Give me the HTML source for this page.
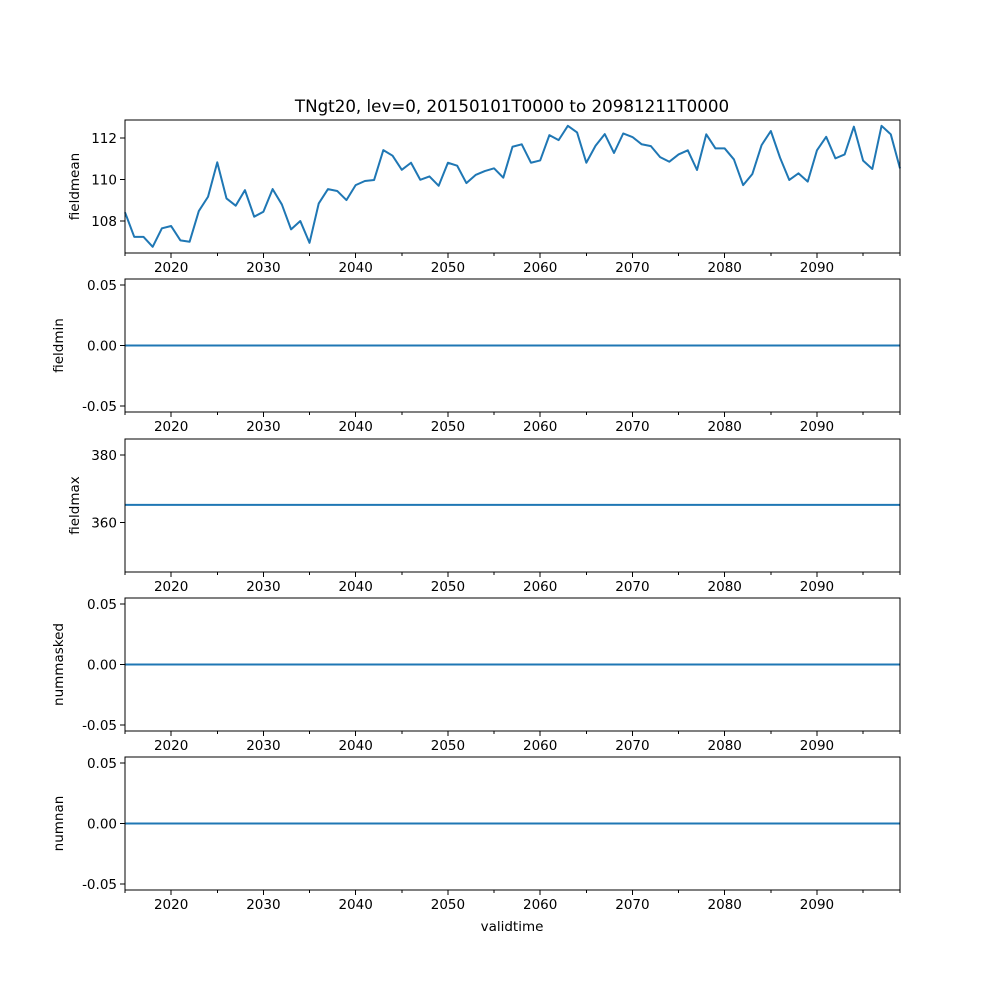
<!DOCTYPE html>
<html><head><meta charset="utf-8"><style>
body{margin:0;background:#fff;}
svg{display:block;font-family:"DejaVu Sans","Liberation Sans",sans-serif;}
</style></head><body>
<svg id="chart" width="1000" height="1000" xmlns="http://www.w3.org/2000/svg">
<rect width="1000" height="1000" fill="#fff"/>
<text x="512" y="112" font-size="16.7" text-anchor="middle">TNgt20, lev=0, 20150101T0000 to 20981211T0000</text>
<text x="512" y="931" font-size="13.5" text-anchor="middle">validtime</text>
</svg>
<script>
const years = [];
for (let y = 2015; y <= 2099; y++) years.push(y);
const fieldmean = [108.42,107.24,107.24,106.76,107.65,107.76,107.07,107.0,108.48,109.17,110.83,109.09,108.74,109.49,108.21,108.45,109.54,108.8,107.6,108.0,106.95,108.85,109.54,109.45,109.01,109.73,109.93,109.98,111.42,111.15,110.47,110.81,109.99,110.15,109.70,110.81,110.67,109.83,110.22,110.41,110.54,110.09,111.58,111.70,110.81,110.92,112.14,111.90,112.59,112.27,110.81,111.63,112.19,111.28,112.22,112.05,111.70,111.61,111.08,110.86,111.21,111.41,110.46,112.18,111.50,111.50,110.97,109.73,110.27,111.66,112.34,111.05,109.98,110.30,109.90,111.41,112.06,111.02,111.21,112.55,110.91,110.51,112.59,112.18,110.54];
const fieldmin = years.map(()=>0);
const fieldmax = years.map(()=>365.3);
const nummasked = years.map(()=>0);
const numnan = years.map(()=>0);
const xTicks = [2020,2030,2040,2050,2060,2070,2080,2090];
const xMinor = [2015,2025,2035,2045,2055,2065,2075,2085,2095,2099];

const NS="http://www.w3.org/2000/svg";
const svg=document.getElementById('chart');
const X0=125,X1=900,XMIN=2015,XMAX=2099;
const xs=v=>X0+(v-XMIN)/(XMAX-XMIN)*(X1-X0);
function mk(tag,attrs,parent){const e=document.createElementNS(NS,tag);for(const k in attrs)e.setAttribute(k,attrs[k]);(parent||svg).appendChild(e);return e;}

const panels=[
 {name:'fieldmean',data:fieldmean,top:120,bot:253,dom:[106.46,112.87],ticks:[108,110,112],fmt:v=>String(v)},
 {name:'fieldmin',data:fieldmin,top:279,bot:412,dom:[-0.055,0.055],ticks:[-0.05,0,0.05],fmt:v=>v.toFixed(2)},
 {name:'fieldmax',data:fieldmax,top:439,bot:572,dom:[345.4,384.8],ticks:[360,380],fmt:v=>String(v)},
 {name:'nummasked',data:nummasked,top:598,bot:731,dom:[-0.055,0.055],ticks:[-0.05,0,0.05],fmt:v=>v.toFixed(2)},
 {name:'numnan',data:numnan,top:757,bot:890,dom:[-0.055,0.055],ticks:[-0.05,0,0.05],fmt:v=>v.toFixed(2)}
];
panels.forEach(p=>{
 const g=mk('g',{});
 
 
 const ys=v=>p.bot-(v-p.dom[0])/(p.dom[1]-p.dom[0])*(p.bot-p.top);
 let d='';
 years.forEach((y,i)=>{d+=(i?'L':'M')+xs(y).toFixed(2)+','+ys(p.data[i]).toFixed(2);});
 const path=mk('path',{d:d,fill:'none',stroke:'#1f77b4','stroke-width':2,'stroke-linejoin':'round'},g);
 
 
 const fr=mk('rect',{x:X0,y:p.top,width:X1-X0,height:p.bot-p.top,fill:'none',stroke:'#000','stroke-width':1,'shape-rendering':'crispEdges'},g);
 
 
 p.ticks.forEach(t=>{
  const y=ys(t);
  mk('line',{x1:X0-5,x2:X0,y1:y,y2:y,stroke:'#000','shape-rendering':'crispEdges'},g);
  const tx=mk('text',{x:X0-8,y:y+5,'font-size':13.5,'text-anchor':'end'},g);
  tx.textContent=p.fmt(t);
  
  
 });
 xTicks.forEach(t=>{
  const x=xs(t);
  mk('line',{x1:x,x2:x,y1:p.bot,y2:p.bot+5,stroke:'#000','shape-rendering':'crispEdges'},g);
  const tx=mk('text',{x:x,y:p.bot+19,'font-size':13.5,'text-anchor':'middle'},g);
  tx.textContent=String(t);
  
  
 });
 xMinor.forEach(t=>{const x=xs(t);mk('line',{x1:x,x2:x,y1:p.bot,y2:p.bot+3,stroke:'#000','shape-rendering':'crispEdges'},g);});
 const cy=(p.top+p.bot)/2;
 const lx=p.name==='fieldmean'?79:(p.name==='fieldmax'?79:63);
 const lab=mk('text',{x:lx,y:cy,'font-size':13.5,'text-anchor':'middle',transform:`rotate(-90 ${lx} ${cy})`},g);
 lab.textContent=p.name;
 
 
});
</script>
</body></html>
